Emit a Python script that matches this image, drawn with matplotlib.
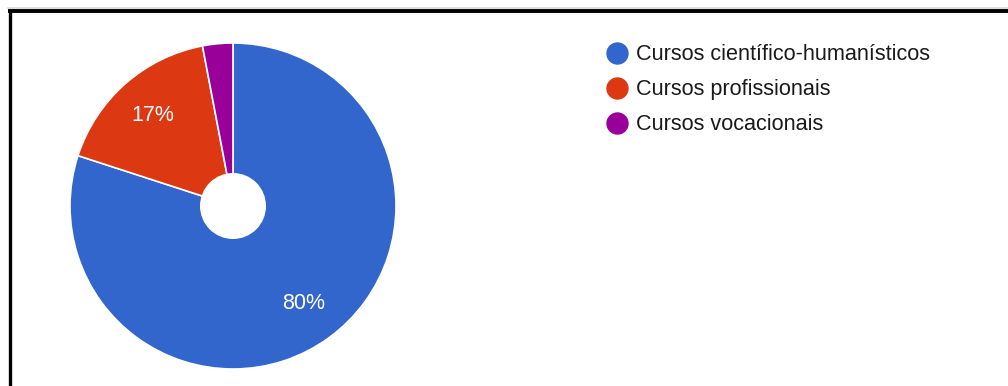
import matplotlib.pyplot as plt
from matplotlib.patches import Circle

# share of students by course type
labels = ['Cursos científico-humanísticos', 'Cursos profissionais', 'Cursos vocacionais']
shares = [80, 17, 3]
colors = ['#3366CC', '#DC3912', '#990099']

W, H = 1008, 386
fig = plt.figure(figsize=(W / 100, H / 100), dpi=100)
plt.rcParams['font.family'] = ['Liberation Sans', 'DejaVu Sans']

# overlay in pixel units for the frame and the legend
ov = fig.add_axes([0, 0, 1, 1])
ov.set_xlim(0, W)
ov.set_ylim(H, 0)
ov.axis('off')
ov.plot([8, W], [11, 11], color='black', lw=2.8, solid_capstyle='butt')
ov.plot([9.5, 9.5], [11, H], color='black', lw=2.4, solid_capstyle='butt')
ov.plot([8, W], [8, 8], color='#d8d8d8', lw=1.2)

# pie: centre (233, 206) px, radius 163 px
cx, cy, r = 233, 206, 163
ax = fig.add_axes([(cx - r) / W, (H - cy - r) / H, 2 * r / W, 2 * r / H])
ax.pie(shares, colors=colors, startangle=90, counterclock=False, radius=1,
       autopct=lambda p: '%d%%' % round(p) if p >= 5 else '',
       pctdistance=0.74,
       wedgeprops=dict(edgecolor='white', linewidth=1.2),
       textprops=dict(color='white', fontsize=15.5))
ax.add_patch(Circle((0, 0), 33 / r, facecolor='white', edgecolor='none', zorder=5))
ax.set_xlim(-1, 1)
ax.set_ylim(-1, 1)
ax.set_aspect('equal')
ax.axis('off')

# legend entries
for i, (lab, col) in enumerate(zip(labels, colors)):
    y = 52.5 + i * 35
    ov.scatter([617], [y], s=21 ** 2 * 0.72 ** 2, color=col, zorder=3)
    ov.text(636, y + 1.5, lab, fontsize=15.6, color='#1a1a1a', va='center', ha='left')

fig.savefig('out.png', dpi=100)
